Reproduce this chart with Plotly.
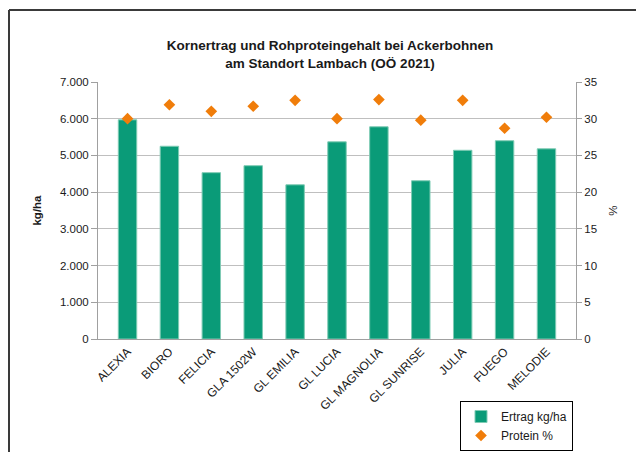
import plotly.graph_objects as go

sorten = ["ALEXIA", "BIORO", "FELICIA", "GLA 1502W", "GL EMILIA", "GL LUCIA",
          "GL MAGNOLIA", "GL SUNRISE", "JULIA", "FUEGO", "MELODIE"]
ertrag = [5970, 5250, 4530, 4720, 4200, 5370, 5780, 4310, 5140, 5400, 5180]
protein = [30.0, 31.9, 31.0, 31.7, 32.5, 30.0, 32.6, 29.8, 32.5, 28.7, 30.2]

FONT = "Liberation Sans, Arial, sans-serif"

fig = go.Figure()
fig.add_trace(go.Bar(
    x=sorten, y=ertrag, name="Ertrag kg/ha",
    marker=dict(color="#0a9b78", line=dict(color="#7fcbb4", width=1)),
    width=0.44, yaxis="y",
))
fig.add_trace(go.Scatter(
    x=sorten, y=protein, name="Protein %", mode="markers",
    marker=dict(symbol="diamond", color="#f07d0a", size=9),
    yaxis="y2",
))

L, R, T, B = 90, 76, 74, 121
PW, PH = 644 - L - R, 452 - T - B

fig.update_layout(
    width=644, height=452,
    margin=dict(l=L, r=R, t=T, b=B, autoexpand=False),
    paper_bgcolor="white", plot_bgcolor="white",
    font=dict(family=FONT, size=11, color="#1a1a1a"),
    separators=",.",
    title=dict(
        text="<b>Kornertrag und Rohproteingehalt bei Ackerbohnen<br>am Standort Lambach (OÖ 2021)</b>",
        x=0.5, xanchor="center", y=0.907, yanchor="middle",
        font=dict(family=FONT, size=13.5, color="#1a1a1a"),
    ),
    showlegend=True,
    legend=dict(
        x=(565 - L) / PW, y=(T + PH - 393) / PH, xanchor="right", yanchor="top",
        bordercolor="#000000", borderwidth=1,
        font=dict(family=FONT, size=12),
        tracegroupgap=0,
        bgcolor="white",
    ),
    xaxis=dict(
        type="category", tickangle=-45, showgrid=False,
        showline=True, linecolor="#a0a0a0", linewidth=1,
        ticks="", tickfont=dict(family=FONT, size=12),
    ),
    yaxis=dict(
        range=[0, 7000], dtick=1000, tickformat=",d",
        showgrid=True, gridcolor="#bfbfbf", gridwidth=1,
        showline=True, linecolor="#a0a0a0", linewidth=1,
        ticks="outside", ticklen=6, tickcolor="#a0a0a0",
        zeroline=False, tickfont=dict(family=FONT, size=11.5),
        title=dict(text="<b>kg/ha</b>", standoff=15, font=dict(family=FONT, size=11.5)),
    ),
    yaxis2=dict(
        range=[0, 35], dtick=5, overlaying="y", side="right",
        showgrid=False, showline=True, linecolor="#a0a0a0", linewidth=1,
        ticks="outside", ticklen=5, tickcolor="#a0a0a0",
        zeroline=False, tickfont=dict(family=FONT, size=11.5),
        title=dict(text="%", standoff=12, font=dict(family=FONT, size=11.5)),
    ),
    shapes=[
        dict(type="line", xref="paper", yref="paper",
             x0=(1 - L) / PW, x1=1.3, y0=1 + (T - 2) / PH, y1=1 + (T - 2) / PH,
             line=dict(color="#3a3a3a", width=2)),
        dict(type="line", xref="paper", yref="paper",
             x0=(1 - L) / PW, x1=(1 - L) / PW, y0=1 + (T - 2) / PH, y1=-0.6,
             line=dict(color="#3a3a3a", width=2)),
    ],
)

fig.write_html("out.html")
